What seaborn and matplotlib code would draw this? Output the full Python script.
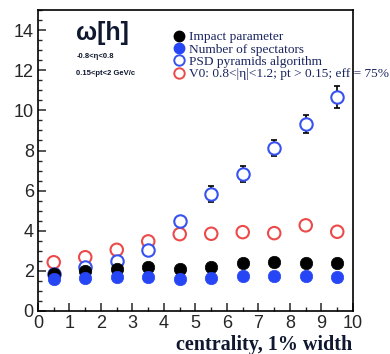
import numpy as np
import pandas as pd
import seaborn as sns
import matplotlib
matplotlib.use("Agg")
import matplotlib.pyplot as plt
from matplotlib.lines import Line2D
from matplotlib.ticker import MultipleLocator

# centrality bin centres (1% wide)
centrality = [0.5, 1.5, 2.5, 3.5, 4.5, 5.5, 6.5, 7.5, 8.5, 9.5]

impact_parameter = [1.85, 2.0, 2.1, 2.17, 2.1, 2.2, 2.38, 2.45, 2.4, 2.4]
n_spectators = [1.58, 1.65, 1.7, 1.7, 1.6, 1.65, 1.75, 1.75, 1.75, 1.7]
psd_pyramids = [1.85, 2.17, 2.5, 3.02, 4.48, 5.85, 6.83, 8.13, 9.33, 10.67]
psd_err = [0.05, 0.05, 0.06, 0.08, 0.1, 0.4, 0.42, 0.38, 0.45, 0.55]
v0 = [2.43, 2.68, 3.05, 3.47, 3.83, 3.85, 3.93, 3.88, 4.27, 3.95]

labels = [
    "Impact parameter",
    "Number of spectators",
    "PSD pyramids algorithm",
    "V0: 0.8<|\u03b7|<1.2; pt > 0.15; eff = 75%",
]

BLACK = "#000000"
BLUE = "#2646f5"
BLUE_OPEN = "#3652f0"
RED = "#ec4a4a"
TEXT = "#101830"

sns.set_style("ticks")
plt.rcParams["font.family"] = ["Liberation Sans", "DejaVu Sans"]

fig = plt.figure(figsize=(3.9, 3.54), dpi=100)
ax = fig.add_axes([0.0974, 0.1215, 0.8077, 0.85])

df = pd.DataFrame({
    "centrality": centrality,
    "impact": impact_parameter,
    "spect": n_spectators,
    "psd": psd_pyramids,
    "v0": v0,
})

ms = 80
# open markers first, filled markers on top
sns.scatterplot(data=df, x="centrality", y="v0", ax=ax, marker="o", s=ms,
                facecolor="none", edgecolor=RED, linewidth=1.5, zorder=3)
ax.errorbar(centrality, psd_pyramids, yerr=psd_err, fmt="none", ecolor="black",
            elinewidth=1.2, capsize=2.5, capthick=1.2, zorder=2)
sns.scatterplot(data=df, x="centrality", y="psd", ax=ax, marker="o", s=ms,
                facecolor="white", edgecolor=BLUE_OPEN, linewidth=1.5, zorder=3)
sns.scatterplot(data=df, x="centrality", y="impact", ax=ax, marker="o", s=ms,
                color=BLACK, edgecolor=BLACK, linewidth=0.5, zorder=4)
sns.scatterplot(data=df, x="centrality", y="spect", ax=ax, marker="o", s=ms,
                color=BLUE, edgecolor=BLUE, linewidth=0.5, zorder=5)

ax.set_xlim(0, 10)
ax.set_ylim(0, 15)
ax.set_xlabel("")
ax.set_ylabel("")

ax.xaxis.set_major_locator(MultipleLocator(1))
ax.xaxis.set_minor_locator(MultipleLocator(0.5))
ax.yaxis.set_major_locator(MultipleLocator(2))
ax.yaxis.set_minor_locator(MultipleLocator(0.5))
ax.tick_params(axis="both", which="major", direction="in", length=6, width=1.1,
               labelsize=13)
ax.tick_params(axis="x", which="major", pad=3)
ax.tick_params(axis="y", which="major", pad=3)
ax.tick_params(axis="both", which="minor", direction="in", length=3, width=1.0)
for sp in ax.spines.values():
    sp.set_linewidth(1.2)
    sp.set_color("black")

# annotation text
ax.text(0.12, 0.925, "\u03c9[h]", transform=ax.transAxes, fontsize=18,
        fontweight="bold", ha="left", va="center", color=TEXT)
ax.text(0.122, 0.845, "-0.8<\u03b7<0.8", transform=ax.transAxes, fontsize=5.5,
        fontweight="bold", ha="left", va="center", color=TEXT)
ax.text(0.122, 0.79, "0.15<pt<2 GeV/c", transform=ax.transAxes, fontsize=5.5,
        fontweight="bold", ha="left", va="center", color=TEXT)

handles = [
    Line2D([], [], ls="none", marker="o", ms=7.5, mfc=BLACK, mec=BLACK),
    Line2D([], [], ls="none", marker="o", ms=7.5, mfc=BLUE, mec=BLUE),
    Line2D([], [], ls="none", marker="o", ms=7.5, mfc="none", mec=BLUE_OPEN, mew=1.4),
    Line2D([], [], ls="none", marker="o", ms=7.5, mfc="none", mec=RED, mew=1.4),
]
leg = ax.legend(handles, labels, loc="upper left", bbox_to_anchor=(0.431, 0.93),
                frameon=False, prop={"family": "Liberation Serif", "size": 9.6},
                handletextpad=0.35, labelspacing=0.0, borderaxespad=0,
                handlelength=0.8, borderpad=0)
for t in leg.get_texts():
    t.set_color("#1a2460")

fig.text(0.903, 0.012, "centrality, 1% width", ha="right", va="baseline",
         fontsize=14.5, fontweight="bold", family="Liberation Serif", color=TEXT)

fig.savefig("out.png", dpi=100)
